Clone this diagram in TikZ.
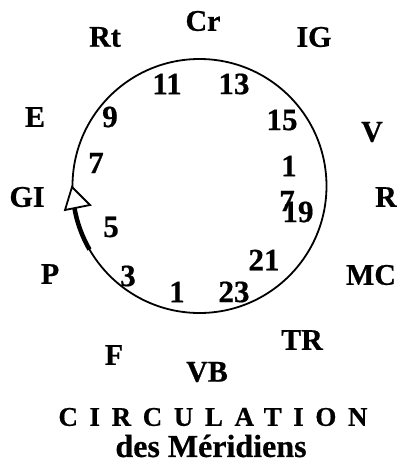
\documentclass[tikz,border=0pt]{standalone}
\usepackage{fontspec}
\setmainfont{Liberation Serif}[BoldFeatures={FakeBold=0.6}]
\begin{document}
\begin{tikzpicture}[x=1pt,y=-1pt,
  lab/.style={font=\fontsize{30}{30}\selectfont\bfseries, inner sep=0pt, anchor=center},
  num/.style={font=\fontsize{31}{31}\selectfont\bfseries, inner sep=0pt, anchor=center},
  ring/.style={line width=1.8pt},
  shaft/.style={line width=4.5pt},
  head/.style={line width=1.8pt, fill=white, line join=miter}]
\useasboundingbox (0,0) rectangle (397,475);
\coordinate (O) at (199.5,186);
\draw[ring] (O) circle[radius=127pt];
% arrow along the circle
\draw[shaft] ([shift={(O)}]210:127pt) arc[start angle=210, end angle=190, radius=127pt];
\coordinate (tip) at (72,187);
\coordinate (bl) at (65,210);
\coordinate (br) at (90,205);
\draw[head] (tip) -- (bl) -- (br) -- cycle;
% outer labels
\node[lab] (Cr) at (203,21) {Cr};
\node[lab] (Rt) at (105,37) {Rt};
\node[lab] (IG) at (314,37) {IG};
\node[lab] (E) at (35,117) {E};
\node[lab] (V) at (372,132) {V};
\node[lab] (GI) at (27,197) {GI};
\node[lab] (R) at (386,197) {R};
\node[lab] (P) at (50,274) {P};
\node[lab] (MC) at (371,275) {MC};
\node[lab] (TR) at (302,340) {TR};
\node[lab] (F) at (114,355) {F};
\node[lab] (VB) at (207,372) {VB};
% inner numbers
\node[num] (n11) at (167,84) {11};
\node[num] (n13) at (234,84) {13};
\node[num] (n9) at (110,117) {9};
\node[num] (n15) at (282,120) {15};
\node[num] (n7a) at (96,163) {7};
\node[num] (n1a) at (289,166) {1};
\node[num] (n7b) at (287,201) {7};
\node[num] (n19) at (298,212) {19};
\node[num] (n5) at (111,227) {5};
\node[num] (n21) at (264,260) {21};
\node[num] (n3) at (128,276) {3};
\node[num] (n1b) at (177,292) {1};
\node[num] (n23) at (234,292) {23};
% title
\node[lab, font=\fontsize{27}{27}\selectfont\bfseries\addfontfeatures{LetterSpace=43}] (t1) at (213,417) {CIRCULATION};
\node[lab, font=\fontsize{32}{32}\selectfont\bfseries] (t2) at (211,446) {des Méridiens};
\end{tikzpicture}
\end{document}
